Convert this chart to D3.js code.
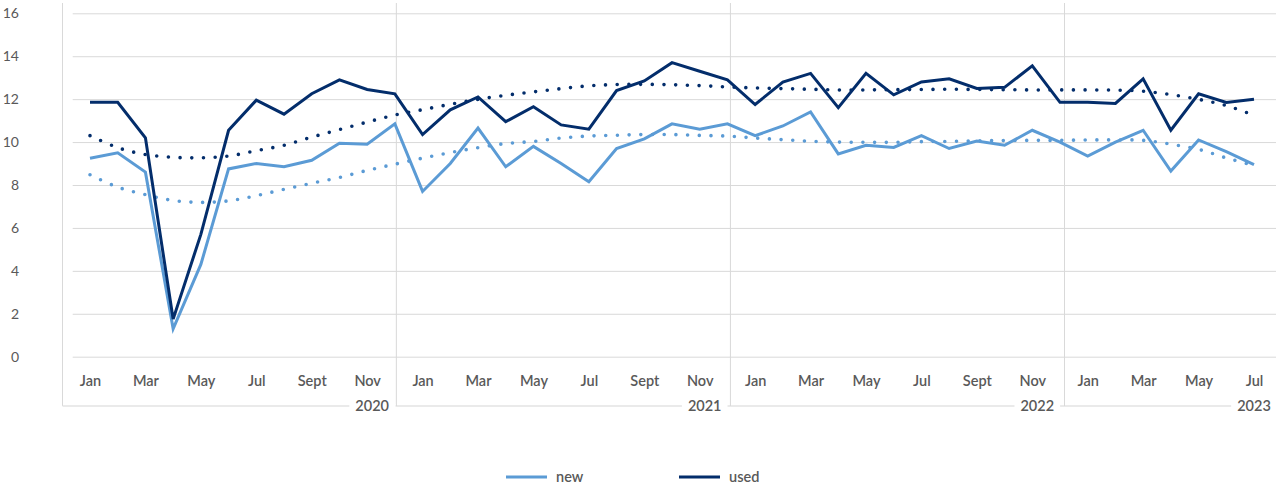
<!DOCTYPE html>
<html>
<head>
<meta charset="utf-8">
<script src="https://cdn.jsdelivr.net/npm/d3@7"></script>
<style>
  html, body { margin: 0; padding: 0; background: #fff; }
  svg { display: block; }
  text { font-family: Lato, "Open Sans", sans-serif; }
</style>
</head>
<body>
<svg id="chart" width="1280" height="492"></svg>
<script>
const monthNames = ["Jan","Feb","Mar","Apr","May","Jun","Jul","Aug","Sept","Oct","Nov","Dec"];
const years = ["2020","2021","2022","2023"];
const monthsPerYear = [12, 12, 12, 7];

const categories = [];
years.forEach((yr, yi) => {
  for (let m = 0; m < monthsPerYear[yi]; m++) categories.push(yr + "-" + monthNames[m]);
});

const newValues = [
  9.25, 9.5, 8.6, 1.3, 4.3, 8.75, 9.0, 8.85, 9.15, 9.95, 9.9, 10.85,
  7.7, 9.0, 10.65, 8.85, 9.8, 9.0, 8.15, 9.7, 10.15, 10.85, 10.6, 10.85,
  10.3, 10.75, 11.4, 9.45, 9.85, 9.75, 10.3, 9.7, 10.05, 9.85, 10.55, 10.0,
  9.35, 10.0, 10.55, 8.65, 10.1, 9.55, 8.95
];
const usedValues = [
  11.85, 11.85, 10.2, 1.75, 5.7, 10.55, 11.95, 11.3, 12.25, 12.9, 12.45, 12.25,
  10.35, 11.5, 12.1, 10.95, 11.65, 10.8, 10.6, 12.4, 12.85, 13.7, 13.3, 12.9,
  11.75, 12.8, 13.2, 11.6, 13.2, 12.2, 12.8, 12.95, 12.5, 12.55, 13.55, 11.85,
  11.85, 11.8, 12.95, 10.55, 12.25, 11.85, 12.0
];
const newTrend = [
  8.48, 7.9, 7.55, 7.28, 7.19, 7.26, 7.5, 7.8, 8.08, 8.35, 8.68, 8.97,
  9.25, 9.51, 9.74, 9.93, 10.03, 10.19, 10.28, 10.32, 10.35, 10.35, 10.31, 10.28,
  10.19, 10.11, 10.04, 10.0, 9.99, 9.99, 10.02, 10.03, 10.06, 10.07, 10.08, 10.08,
  10.1, 10.1, 10.08, 9.9, 9.66, 9.26, 8.91
];
const usedTrend = [
  10.3, 9.74, 9.42, 9.29, 9.27, 9.35, 9.6, 9.85, 10.23, 10.58, 10.93, 11.26,
  11.51, 11.76, 11.99, 12.18, 12.34, 12.49, 12.62, 12.68, 12.69, 12.67, 12.63, 12.57,
  12.52, 12.49, 12.46, 12.43, 12.43, 12.44, 12.45, 12.46, 12.45, 12.44, 12.43, 12.43,
  12.43, 12.42, 12.37, 12.21, 11.99, 11.7, 11.25
];
const yTicks = [0, 2, 4, 6, 8, 10, 12, 14, 16];
const seriesNames = ["new", "used"];
const colors = { new: "#5b9bd5", used: "#032d6b" };

const svg = d3.select("#chart");
const x = d3.scalePoint().domain(categories).range([90, 1254]);
const y = d3.scaleLinear().domain([0, 16]).range([356.7, 13.3]);
const gridLeft = 72.7, gridRight = 1276;

// horizontal gridlines
svg.append("g")
  .attr("transform", `translate(${gridLeft},0)`)
  .call(d3.axisLeft(y).tickValues(yTicks).tickSize(-(gridRight - gridLeft)).tickFormat(""))
  .call(g => g.select(".domain").remove())
  .call(g => g.selectAll("line").attr("stroke", "#d9d9d9").attr("stroke-width", 1));

// y labels
svg.append("g")
  .attr("transform", `translate(19,0)`)
  .call(d3.axisLeft(y).tickValues(yTicks).tickSize(0).tickPadding(0))
  .call(g => g.select(".domain").remove())
  .call(g => g.selectAll("text")
    .attr("fill", "#595959").attr("font-size", "14px")
    .style("font-family", "Lato, sans-serif"));

// frame: left border + bottom line
const frameTop = 3, frameBottom = 406;
svg.append("line").attr("x1", 62.5).attr("x2", 62.5).attr("y1", frameTop).attr("y2", frameBottom)
  .attr("stroke", "#d9d9d9");
svg.append("line").attr("x1", 62.5).attr("x2", 1232).attr("y1", frameBottom).attr("y2", frameBottom)
  .attr("stroke", "#e3e3e3").attr("stroke-width", 1.5);

// year separators (after December of each full year)
const decIdx = [];
let acc = 0;
monthsPerYear.forEach((n, i) => { acc += n; if (n === 12) decIdx.push(acc - 1); });
decIdx.forEach((i, k) => {
  const xx = x(categories[i]) + 1.5 + k * 1.5;
  svg.append("line").attr("x1", xx).attr("x2", xx).attr("y1", frameTop).attr("y2", frameBottom)
    .attr("stroke", "#d9d9d9");
});

// month labels (every other month)
const xAxis = d3.axisBottom(x)
  .tickValues(categories.filter((c, i) => (i % 12) % 2 === 0))
  .tickSize(0).tickPadding(0)
  .tickFormat(c => c.split("-")[1]);
svg.append("g")
  .attr("transform", `translate(0,376)`)
  .call(xAxis)
  .call(g => g.select(".domain").remove())
  .call(g => g.selectAll("text")
    .attr("fill", "#595959").attr("font-size", "14.5px").attr("font-weight", "600")
    .style("font-family", "Lato, sans-serif"));

// year labels
const yearG = svg.append("g");
let start = 0;
years.forEach((yr, yi) => {
  const n = monthsPerYear[yi];
  const lastLabeled = start + (n % 2 === 0 ? n - 2 : n - 1);
  const cx = x(categories[lastLabeled]) + (yi === years.length - 1 ? 0 : 5);
  const bg = yearG.append("rect").attr("fill", "#fff");
  const t = yearG.append("text").attr("x", cx).attr("y", 411)
    .attr("text-anchor", "middle").attr("fill", "#595959")
    .attr("font-size", "14.5px").attr("font-weight", "600").text(yr);
  const bb = t.node().getBBox();
  bg.attr("x", bb.x - 6).attr("y", frameBottom - 2).attr("width", bb.width + 12).attr("height", 4);
  start += n;
});

// lines
const line = d3.line().x((d, i) => x(categories[i])).y(d => y(d));
const trend = d3.line().x((d, i) => x(categories[i])).y(d => y(d)).curve(d3.curveCatmullRom.alpha(0.5));

const plot = svg.append("g");
plot.append("path").datum(newTrend).attr("d", trend)
  .attr("fill", "none").attr("stroke", colors.new).attr("stroke-width", 3.6)
  .attr("stroke-linecap", "round").attr("stroke-dasharray", "0 11.7");
plot.append("path").datum(usedTrend).attr("d", trend)
  .attr("fill", "none").attr("stroke", colors.used).attr("stroke-width", 3.6)
  .attr("stroke-linecap", "round").attr("stroke-dasharray", "0 11.7");
plot.append("path").datum(newValues).attr("d", line)
  .attr("fill", "none").attr("stroke", colors.new).attr("stroke-width", 3)
  .attr("stroke-linejoin", "miter");
plot.append("path").datum(usedValues).attr("d", line)
  .attr("fill", "none").attr("stroke", colors.used).attr("stroke-width", 3)
  .attr("stroke-linejoin", "miter");

// legend
const legendItems = [{ name: seriesNames[0], x: 506 }, { name: seriesNames[1], x: 679 }];
const lg = svg.append("g");
legendItems.forEach(it => {
  lg.append("line").attr("x1", it.x).attr("x2", it.x + 41).attr("y1", 477).attr("y2", 477)
    .attr("stroke", colors[it.name]).attr("stroke-width", 3);
  lg.append("text").attr("x", it.x + 50).attr("y", 482)
    .attr("fill", "#595959").attr("font-size", "14.5px").attr("font-weight", "600").text(it.name);
});
</script>
</body>
</html>
